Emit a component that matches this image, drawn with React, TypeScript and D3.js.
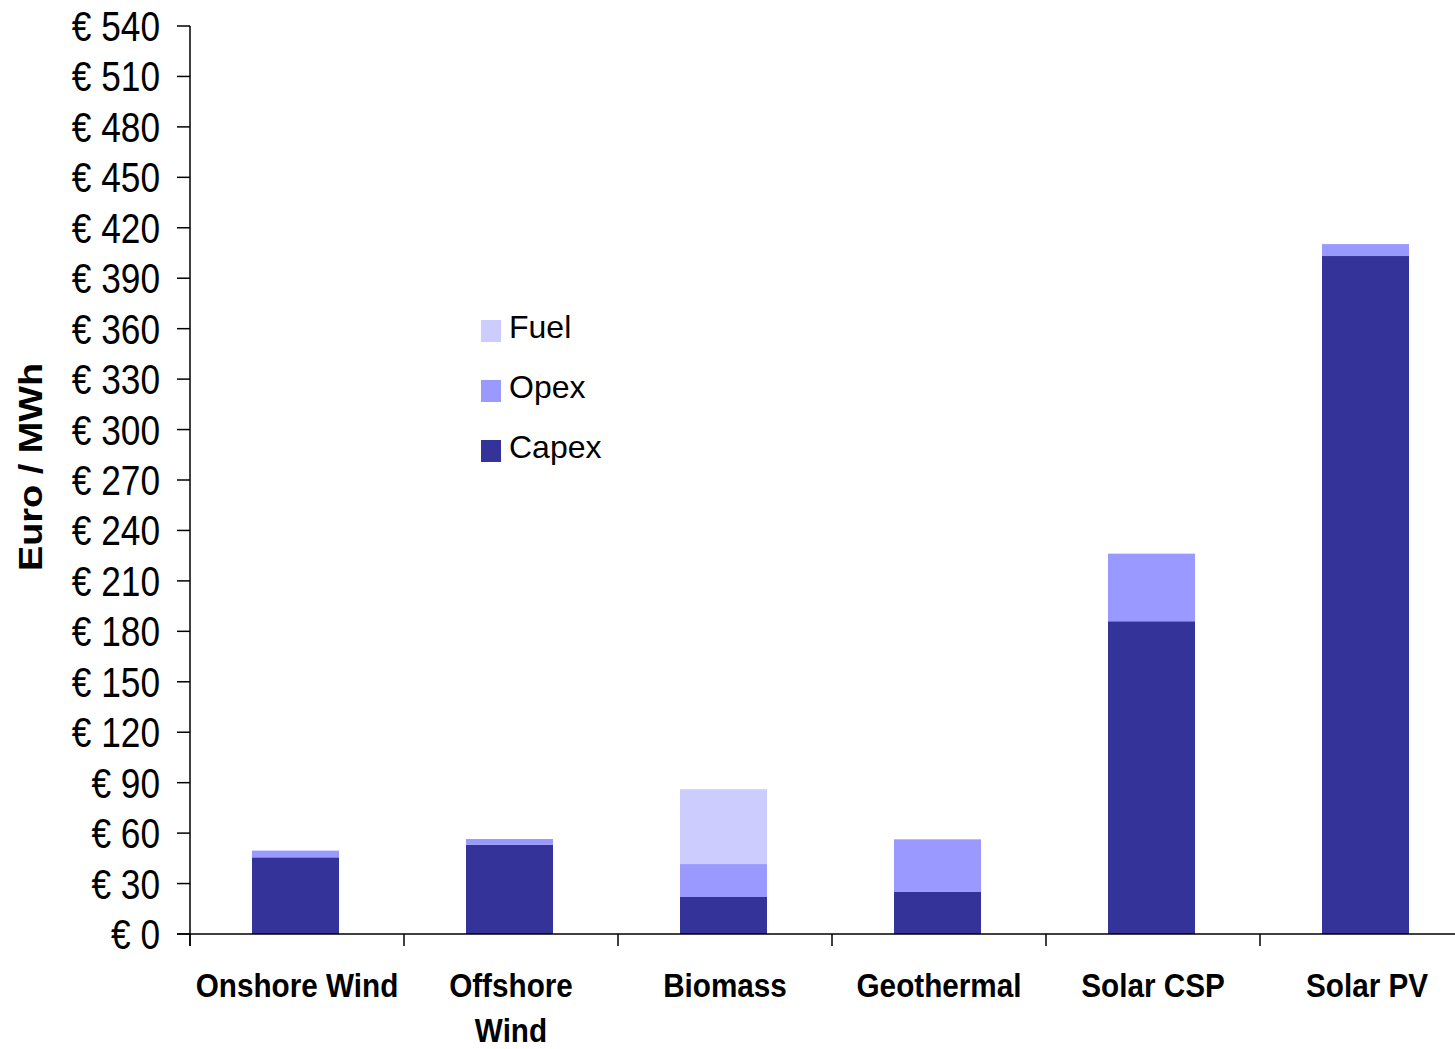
import * as d3 from "d3";

const categories = ["Onshore Wind", "Offshore Wind", "Biomass", "Geothermal", "Solar CSP", "Solar PV"];
const capex = [45.6, 53, 22, 25, 186, 403.2];
const opex = [4, 3.5, 19.6, 31.3, 40.2, 7.1];
const fuel = [0, 0, 44.5, 0, 0, 0];
const yTicks = d3.range(0, 541, 30);
const seriesNames = ["Capex", "Opex", "Fuel"];
const colors = ["#333399", "#9999ff", "#ccccff"];

const font = "'Liberation Sans', Arial, sans-serif";

export default function App() {
  const x = d3.scaleBand().domain(categories).range([190, 190 + 6 * 214]).padding(0);
  const y = d3.scaleLinear().domain([0, 540]).range([934, 26]);
  const barW = 87;

  const rows = categories.map((c, i) => ({ cat: c, Capex: capex[i], Opex: opex[i], Fuel: fuel[i] }));
  const stacked = d3.stack<any>().keys(seriesNames)(rows);

  return (
    <svg width={1455} height={1049} style={{ position: "absolute", left: 0, top: 0, background: "white" }}>
      {/* bars */}
      {stacked.map((s, si) => (
        <g key={si} fill={colors[si]}>
          {s.map((d, i) =>
            d[1] - d[0] > 0 ? (
              <rect
                key={i}
                x={x(categories[i])! + (x.bandwidth() - barW) / 2 - 1.5}
                y={y(d[1])}
                width={barW}
                height={y(d[0]) - y(d[1])}
              />
            ) : null
          )}
        </g>
      ))}

      {/* y axis */}
      <line x1={190} y1={26} x2={190} y2={946} stroke="black" strokeWidth={1.5} />
      {yTicks.map((t) => (
        <g key={t}>
          <line x1={177} y1={y(t)} x2={190} y2={y(t)} stroke="black" strokeWidth={1.5} />
          <g transform={`translate(160,${y(t) + 15}) scale(0.82,1)`}>
            <text textAnchor="end" fontSize={43} fontFamily={font} fill="black">
              {"€ " + t}
            </text>
          </g>
        </g>
      ))}

      {/* x axis */}
      <line x1={177} y1={934} x2={1455} y2={934} stroke="black" strokeWidth={1.5} />
      {categories.map((c, i) => (
        <line key={i} x1={x(c)!} y1={934} x2={x(c)!} y2={946} stroke="black" strokeWidth={1.5} />
      ))}
      {categories.map((c) => {
        const cx = x(c)! + x.bandwidth() / 2;
        const lines = c === "Offshore Wind" ? ["Offshore", "Wind"] : [c];
        return (
          <g key={c} transform={`translate(${cx},0) scale(0.9,1)`}>
            {lines.map((l, li) => (
              <text
                key={li}
                x={0}
                y={997 + li * 45}
                textAnchor="middle"
                fontSize={33}
                fontWeight="bold"
                fontFamily={font}
                fill="black"
              >
                {l}
              </text>
            ))}
          </g>
        );
      })}

      {/* y title */}
      <text
        transform="translate(42,467) rotate(-90)"
        textAnchor="middle"
        fontSize={33}
        fontWeight="bold"
        fontFamily={font}
        fill="black"
        textLength={208}
        lengthAdjust="spacingAndGlyphs"
      >
        Euro / MWh
      </text>

      {/* legend */}
      {["Fuel", "Opex", "Capex"].map((n, i) => (
        <g key={n} transform={`translate(481,${320 + i * 60})`}>
          <rect width={20} height={22} fill={colors[seriesNames.indexOf(n)]} />
          <text x={28} y={18} fontSize={32} fontFamily={font} fill="black">
            {n}
          </text>
        </g>
      ))}
    </svg>
  );
}
